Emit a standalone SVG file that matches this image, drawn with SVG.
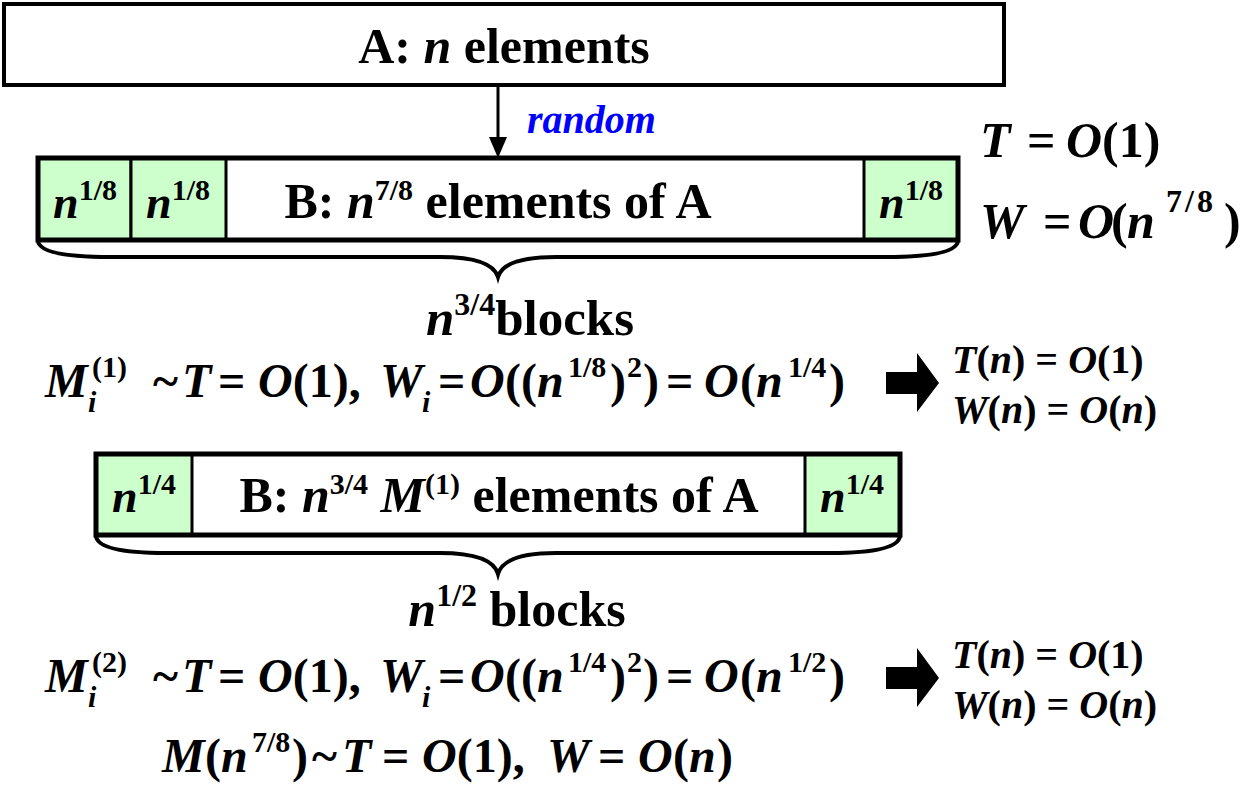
<svg xmlns="http://www.w3.org/2000/svg" width="1256" height="794" viewBox="0 0 1256 794">
<style>
text{font-family:"Liberation Serif","Times New Roman",serif;font-weight:bold;fill:#000}
.it{font-style:italic}
.lbl{font-size:50px}
.eq{font-size:48px}
.sm{font-size:30px}
.rs{font-size:40px}
.cn{font-size:46px}
.box{fill:#fff;stroke:#000;stroke-width:4}
.cell{fill:#ccffcc;stroke:#000;stroke-width:3}
.frame{fill:none;stroke:#000;stroke-width:5}
.brace{fill:none;stroke:#000;stroke-width:4}
</style>
<rect width="1256" height="794" fill="#fff"/>

<g id="nodeA">
<rect class="box" x="4" y="4" width="1000" height="81"/>
<text class="lbl" x="504" y="63" text-anchor="middle">A: <tspan class="it">n</tspan> elements</text>
</g>

<g id="connectors">
<line x1="498" y1="85" x2="498" y2="138" stroke="#000" stroke-width="3"/>
<polygon points="489,137 507,137 498,158" fill="#000"/>
<path class="brace" d="M38,241 Q40,257 110,257 L440,257 Q492,257 498,277 Q504,257 556,257 L886,257 Q956,257 958,241"/>
<path class="brace" d="M96,536 Q98,553 166,553 L440,553 Q492,553 498,574 Q504,553 556,553 L830,553 Q898,553 900,536"/>
<polygon points="886,372 917,372 917,353 939,383 917,412 917,394 886,394" fill="#000"/>
<polygon points="886,667 917,667 917,648 939,678 917,707 917,689 886,689" fill="#000"/>
</g>

<g id="label-random">
<text x="527" y="133" font-size="40" class="it" style="fill:#0000ff">random</text>
</g>

<g id="nodeB">
<rect class="box" x="38" y="158" width="920" height="82"/>
<rect class="cell" x="38" y="158" width="93" height="82"/>
<rect class="cell" x="131" y="158" width="95" height="82"/>
<rect class="cell" x="864" y="158" width="94" height="82"/>
<rect class="frame" x="38" y="158" width="920" height="82"/>
<text x="85" y="218" text-anchor="middle"><tspan class="it cn">n</tspan><tspan class="sm" dy="-18">1/8</tspan></text>
<text x="178" y="218" text-anchor="middle"><tspan class="it cn">n</tspan><tspan class="sm" dy="-18">1/8</tspan></text>
<text x="911" y="218" text-anchor="middle"><tspan class="it cn">n</tspan><tspan class="sm" dy="-18">1/8</tspan></text>
<text class="lbl" x="498" y="218" text-anchor="middle">B: <tspan class="it">n</tspan><tspan class="sm" dy="-18">7/8</tspan><tspan dy="18"> elements of A</tspan></text>
</g>

<g id="complexity-top">
<text font-size="50"><tspan class="it" x="980" y="157">T</tspan><tspan x="1027" y="157">=</tspan><tspan class="it" x="1066" y="157">O</tspan><tspan>(1)</tspan></text>
<text font-size="50"><tspan class="it" x="980" y="238">W</tspan><tspan x="1043" y="238">=</tspan><tspan class="it" x="1078" y="238">O</tspan><tspan x="1111" y="238">(</tspan><tspan class="it" x="1127" y="238">n</tspan><tspan font-size="32" x="1166" y="212" letter-spacing="3">7/8</tspan><tspan x="1224" y="238">)</tspan></text>
</g>

<g id="label-blocks1">
<text x="530" y="335" text-anchor="middle" font-size="51"><tspan class="it">n</tspan><tspan font-size="32" dy="-20">3/4</tspan><tspan dy="20">blocks</tspan></text>
</g>

<g id="eq1">
<text class="eq">
<tspan class="it" x="45" y="397">M</tspan><tspan class="sm" x="92" y="377">(1)</tspan><tspan class="sm it" x="88" y="412">i</tspan>
<tspan x="153" y="397">~</tspan><tspan class="it" x="182" y="397">T</tspan><tspan x="218" y="397">=</tspan><tspan class="it" x="258" y="397">O</tspan><tspan>(1),</tspan>
<tspan class="it" x="380" y="397">W</tspan><tspan class="sm it" x="422" y="412">i</tspan><tspan x="438" y="397">=</tspan>
<tspan class="it" x="470" y="397">O</tspan><tspan x="505" y="397">((</tspan><tspan class="it" x="537" y="397">n</tspan><tspan class="sm" x="568" y="377">1/8</tspan><tspan x="610" y="397">)</tspan><tspan class="sm" x="627" y="377">2</tspan><tspan x="643" y="397">)</tspan>
<tspan x="666" y="397">=</tspan><tspan class="it" x="704" y="397">O</tspan><tspan x="740" y="397">(</tspan><tspan class="it" x="756" y="397">n</tspan><tspan class="sm" x="788" y="377">1/4</tspan><tspan x="829" y="397">)</tspan>
</text>
</g>

<g id="result1">
<text class="rs" x="952" y="373"><tspan class="it">T</tspan>(<tspan class="it">n</tspan>) = <tspan class="it">O</tspan>(1)</text>
<text class="rs" x="952" y="423"><tspan class="it">W</tspan>(<tspan class="it">n</tspan>) = <tspan class="it">O</tspan>(<tspan class="it">n</tspan>)</text>
</g>

<g id="nodeB2">
<rect class="box" x="96" y="454" width="804" height="81"/>
<rect class="cell" x="96" y="454" width="96" height="81"/>
<rect class="cell" x="805" y="454" width="95" height="81"/>
<rect class="frame" x="96" y="454" width="804" height="81"/>
<text x="144" y="512" text-anchor="middle"><tspan class="it cn">n</tspan><tspan class="sm" dy="-18">1/4</tspan></text>
<text x="852" y="512" text-anchor="middle"><tspan class="it cn">n</tspan><tspan class="sm" dy="-18">1/4</tspan></text>
<text class="lbl" x="499" y="512" text-anchor="middle">B: <tspan class="it">n</tspan><tspan class="sm" dy="-18">3/4</tspan><tspan dy="18"> </tspan><tspan class="it">M</tspan><tspan class="sm" dy="-18">(1)</tspan><tspan dy="18"> elements of A</tspan></text>
</g>

<g id="label-blocks2">
<text x="517" y="626" text-anchor="middle" font-size="50"><tspan class="it">n</tspan><tspan font-size="32" dy="-20">1/2</tspan><tspan dy="20"> blocks</tspan></text>
</g>

<g id="eq2">
<text class="eq">
<tspan class="it" x="45" y="692">M</tspan><tspan class="sm" x="92" y="672">(2)</tspan><tspan class="sm it" x="88" y="707">i</tspan>
<tspan x="153" y="692">~</tspan><tspan class="it" x="182" y="692">T</tspan><tspan x="218" y="692">=</tspan><tspan class="it" x="258" y="692">O</tspan><tspan>(1),</tspan>
<tspan class="it" x="380" y="692">W</tspan><tspan class="sm it" x="422" y="707">i</tspan><tspan x="438" y="692">=</tspan>
<tspan class="it" x="470" y="692">O</tspan><tspan x="505" y="692">((</tspan><tspan class="it" x="537" y="692">n</tspan><tspan class="sm" x="568" y="672">1/4</tspan><tspan x="610" y="692">)</tspan><tspan class="sm" x="627" y="672">2</tspan><tspan x="643" y="692">)</tspan>
<tspan x="666" y="692">=</tspan><tspan class="it" x="704" y="692">O</tspan><tspan x="740" y="692">(</tspan><tspan class="it" x="756" y="692">n</tspan><tspan class="sm" x="788" y="672">1/2</tspan><tspan x="829" y="692">)</tspan>
</text>
</g>

<g id="result2">
<text class="rs" x="952" y="668"><tspan class="it">T</tspan>(<tspan class="it">n</tspan>) = <tspan class="it">O</tspan>(1)</text>
<text class="rs" x="952" y="718"><tspan class="it">W</tspan>(<tspan class="it">n</tspan>) = <tspan class="it">O</tspan>(<tspan class="it">n</tspan>)</text>
</g>

<g id="eq3">
<text class="eq">
<tspan class="it" x="162" y="772">M</tspan><tspan x="205" y="772">(</tspan><tspan class="it" x="221" y="772">n</tspan><tspan class="sm" x="252" y="752">7/8</tspan><tspan x="292" y="772">)</tspan>
<tspan x="312" y="772">~</tspan><tspan class="it" x="342" y="772">T</tspan><tspan x="382" y="772">=</tspan><tspan class="it" x="422" y="772">O</tspan><tspan>(1),</tspan>
<tspan class="it" x="547" y="772">W</tspan><tspan x="598" y="772">=</tspan><tspan class="it" x="638" y="772">O</tspan><tspan x="673" y="772">(</tspan><tspan class="it" x="689" y="772">n</tspan><tspan x="717" y="772">)</tspan>
</text>
</g>
</svg>
